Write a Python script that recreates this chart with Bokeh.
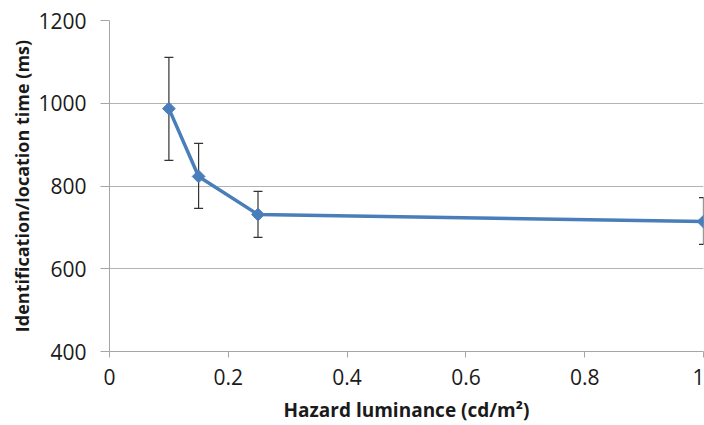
import math
from bokeh.plotting import figure
from bokeh.models import ColumnDataSource, Whisker, TeeHead, Range1d, FixedTicker
from bokeh.embed import file_html
from bokeh.resources import INLINE

luminance = [0.1, 0.15, 0.25, 1.0]
time_ms = [987, 823, 731, 714]
err_upper = [1111, 903, 787, 772]
err_lower = [862, 746, 676, 659]
x_ticks = [0, 0.2, 0.4, 0.6, 0.8, 1.0]
y_ticks = [400, 600, 800, 1000, 1200]

src = ColumnDataSource(dict(x=luminance, y=time_ms, upper=err_upper, lower=err_lower))

p = figure(width=704, height=425, output_backend="svg", toolbar_location=None,
           x_range=Range1d(0, 1), y_range=Range1d(400, 1200),
           min_border_left=109, min_border_right=1, min_border_top=20, min_border_bottom=74)
p.outline_line_color = None
p.background_fill_color = "white"

FONT = "Open Sans"
for ax in (p.xaxis[0], p.yaxis[0]):
    ax.axis_line_color = "#a6a6a6"
    ax.major_tick_line_color = "#a6a6a6"
    ax.minor_tick_line_color = None
    ax.major_tick_in = 0
    ax.major_label_text_font = FONT
    ax.major_label_text_font_size = "21px"
    ax.major_label_text_color = "#1a1a1a"
    ax.axis_label_text_font = FONT
    ax.axis_label_text_font_style = "bold"
    ax.axis_label_text_color = "#1a1a1a"

p.xaxis.axis_label_text_font_size = "19px"
p.yaxis.axis_label_text_font_size = "18px"
p.xaxis.ticker = FixedTicker(ticks=x_ticks)
p.yaxis.ticker = FixedTicker(ticks=y_ticks)
p.xaxis.major_label_overrides = {0: "0", 1: "1", 1.0: "1"}
p.xaxis.major_tick_out = 6
p.yaxis.major_tick_out = 9
p.yaxis.major_label_standoff = 14
p.xaxis.major_label_standoff = 11
p.xaxis.axis_label = "Hazard luminance (cd/m²)"
p.yaxis.axis_label = "Identification/location time (ms)"
p.xaxis.axis_label_standoff = 9
p.yaxis.axis_label_standoff = 1

p.xgrid.grid_line_color = None
p.ygrid.grid_line_color = "#b3b3b3"
p.ygrid.grid_line_width = 1.2

w = Whisker(source=src, base="x", upper="upper", lower="lower",
            line_color="#333333", line_width=1.2,
            upper_head=TeeHead(size=9, line_color="#333333", line_width=1.2),
            lower_head=TeeHead(size=9, line_color="#333333", line_width=1.2))
p.add_layout(w)

p.line("x", "y", source=src, line_color="#4a7ebb", line_width=3.5)
p.scatter("x", "y", source=src, marker="square", size=9, angle=math.pi / 4,
          fill_color="#4a7ebb", line_color="#4a7ebb")

open("out.html", "w").write(file_html(p, INLINE))
